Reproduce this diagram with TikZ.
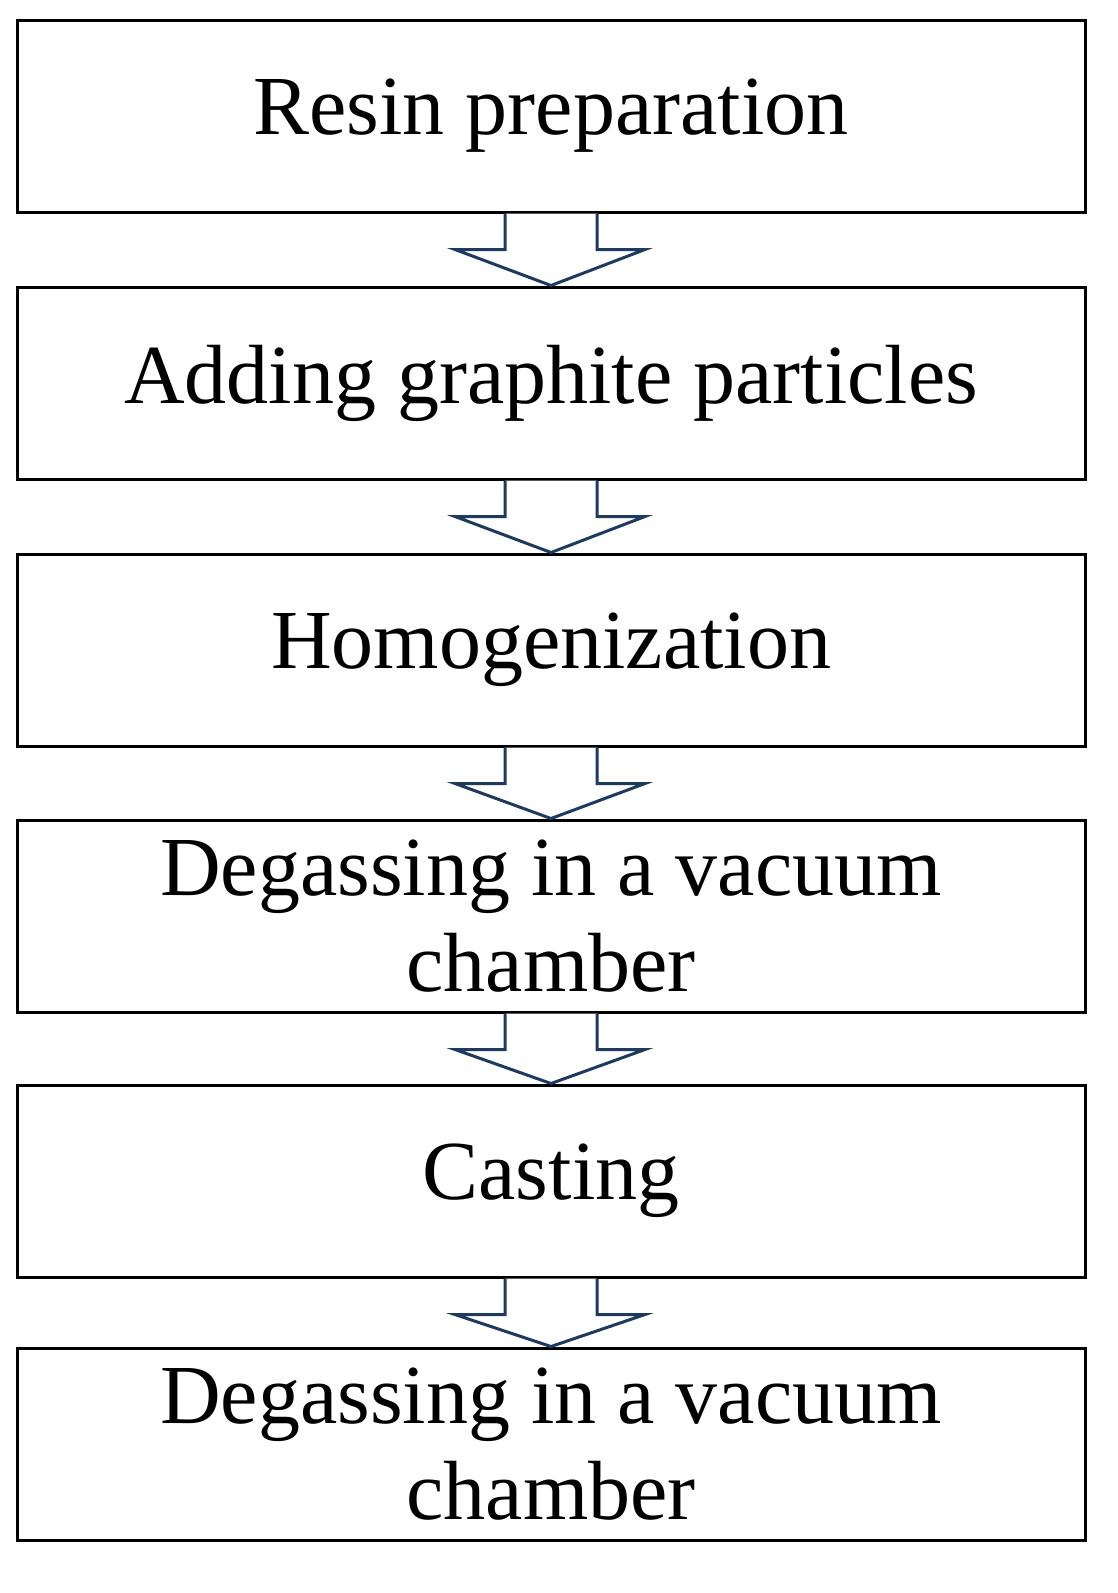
\documentclass[tikz,border=0pt]{standalone}
\usepackage{fontspec}
\setmainfont{Liberation Serif}
\usetikzlibrary{calc}
\definecolor{arr}{HTML}{1F3A5F}
\begin{document}
\begin{tikzpicture}[x=1pt,y=-1pt,
  stepbox/.style={draw=black,line width=3pt,minimum width=1068pt,minimum height=192pt,inner sep=0pt,align=center,font=\fontsize{84}{96}\selectfont},
  flowarrow/.style={draw=arr,line width=3pt,fill=white,line join=miter}]
\useasboundingbox (0,0) rectangle (1117,1593);
\node[stepbox] (b1) at (551,116) {Resin preparation};
\node[stepbox] (b2) at (551,383) {Adding graphite particles};
\node[stepbox] (b3) at (551,650) {Homogenization};
\node[stepbox] (b4) at (551,916) {Degassing in a vacuum\\chamber};
\node[stepbox] (b5) at (551,1181) {Casting};
\node[stepbox] (b6) at (551,1444) {Degassing in a vacuum\\chamber};
\foreach \a/\b in {b1/b2,b2/b3,b3/b4,b4/b5,b5/b6}{
  \path (\a.south) coordinate (s) (\b.north) coordinate (t);
  \draw[flowarrow] ($(s)+(-46,0)$) -- ($(s)+(-46,36)$) -- ($(s)+(-96,36)$) -- (t) -- ($(s)+(94,36)$) -- ($(s)+(46,36)$) -- ($(s)+(46,0)$);
}
\end{tikzpicture}
\end{document}
